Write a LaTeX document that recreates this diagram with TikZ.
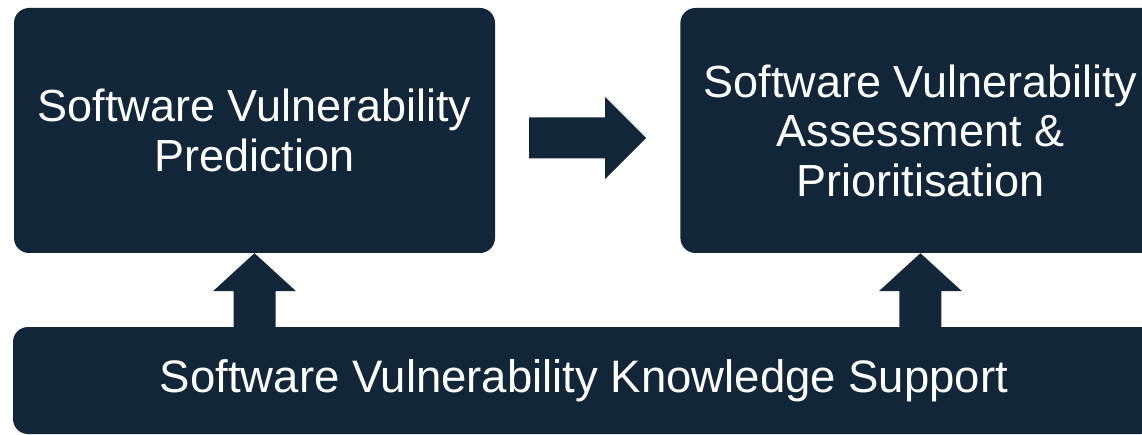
\documentclass[tikz,border=0pt]{standalone}
\usepackage{fontspec}
\setmainfont{Liberation Sans}
\usepackage{tikz}
\usetikzlibrary{positioning,calc}
\definecolor{navy}{RGB}{18,38,58}

\begin{document}
\begin{tikzpicture}[
            x=1pt,
            y=-1pt,
            box/.style={
                fill=navy,
                rounded corners=15pt,
                align=center,
                inner sep=0pt,
                text=white,
                font=\fontsize{45}{49.5}\selectfont
            },
            blockarrow/.style={
                fill=navy
            }
            ]

            \useasboundingbox (0,0) rectangle (1142,435);
            \clip (0,0) rectangle (1142,435);

            \node[box, minimum width=481pt, minimum height=245pt] (pred) at (254.5,130.5)
            {Software Vulnerability\\
                Prediction};

            \node[box, minimum width=480pt, minimum height=245pt, right=185pt of pred] (assess)
            {Software Vulnerability\\
                Assessment \&\\
                Prioritisation};

            \node[box, minimum width=1142pt, minimum height=107pt,
                font=\fontsize{45.5}{50}\selectfont] (know) at (584,380.5)
            {Software Vulnerability Knowledge Support};

            % prediction -> assessment
            \begin{scope}[shift={($(pred.east)+(0,7.5)$)}]
                \fill[blockarrow] (34,-20.5) -- (110,-20.5) -- (110,-41) -- (151,0)
                -- (110,41) -- (110,20.5) -- (34,20.5) -- cycle;
            \end{scope}

            % knowledge support -> both boxes
            \foreach \target in {pred,assess}{
                \begin{scope}[shift={(\target.south)}]
                    \fill[blockarrow] (0,0) -- (41.5,38) -- (21,38) -- (21,74)
                    -- (-21,74) -- (-21,38) -- (-41.5,38) -- cycle;
                \end{scope}
            }

        \end{tikzpicture}
\end{document}
